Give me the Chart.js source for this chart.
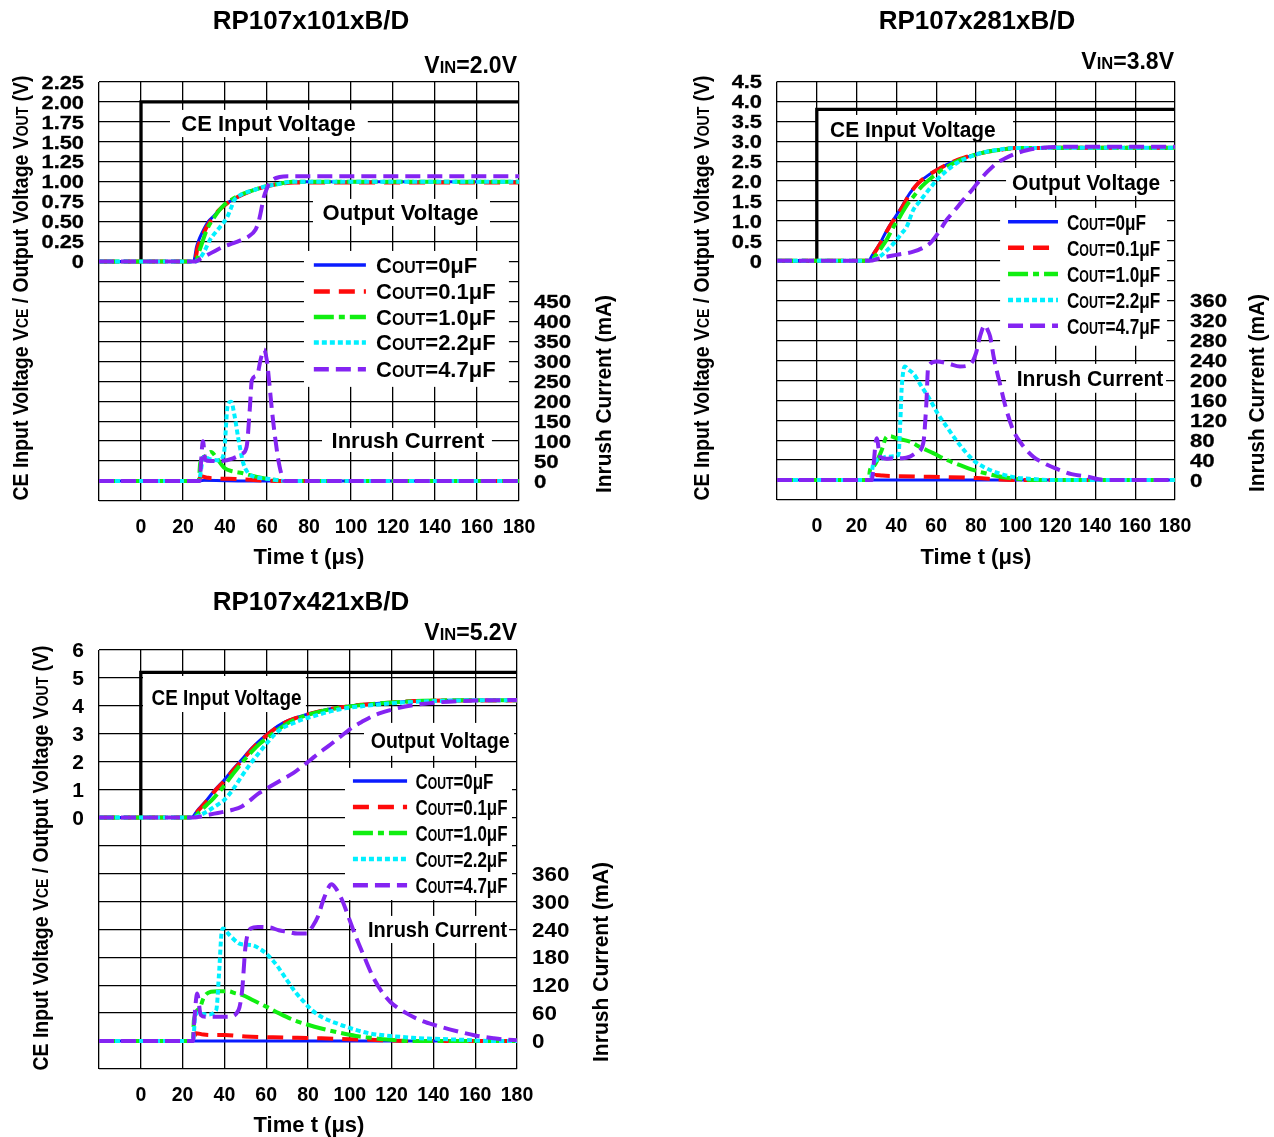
<!DOCTYPE html>
<html>
<head>
<meta charset="utf-8">
<script src="https://cdn.jsdelivr.net/npm/chart.js@4.4.1/dist/chart.umd.min.js"></script>
<style>
  html, body { margin: 0; padding: 0; background: #fff; }
  body { width: 1274px; height: 1137px; position: relative; overflow: hidden; }
  canvas { position: absolute; }
</style>
</head>
<body>
<canvas id="c1" width="640" height="575" style="left:0;top:0"></canvas>
<canvas id="c2" width="634" height="575" style="left:640px;top:0"></canvas>
<canvas id="c3" width="640" height="562" style="left:0;top:575px"></canvas>
<script>
// Capacitor legend entries and line styles
const capLabels = ['0', '0.1', '1.0', '2.2', '4.7'];
const capColors = ['#0a1cff', '#ff0a0a', '#10ee10', '#00f0ff', '#8424f2'];
const capDashes = [[], [16, 9], [20, 5, 6, 5], [5, 3], [15, 7]];
const capWidths = [3, 4, 4, 4, 4];

// ---- RP107x101xB/D, VIN = 2.0V : [time us, value] ----
const p1Out0  = [[-20,0],[25,0],[26.5,0.19],[28,0.3],[29.8,0.40],[32,0.5],[35,0.58],[38,0.67],[42,0.75],[47,0.82],[52,0.88],[58,0.93],[64,0.97],[72,1.0],[180,1.0]];
const p1Out01 = [[-20,0],[25.5,0],[27,0.18],[29,0.3],[31,0.42],[34,0.54],[37,0.64],[41,0.73],[46,0.81],[52,0.88],[58,0.93],[65,0.97],[73,0.99],[180,0.99]];
const p1Out10 = [[-20,0],[26,0],[28,0.15],[31.4,0.40],[35,0.56],[39.6,0.71],[44,0.79],[47.8,0.84],[53,0.89],[59.3,0.94],[65,0.97],[72,1.0],[180,1.0]];
const p1Out22 = [[-20,0],[26,0],[28,0.04],[30,0.12],[32.8,0.27],[35,0.35],[37.8,0.44],[41.1,0.56],[43,0.68],[44.4,0.77],[47.8,0.84],[53,0.89],[59,0.94],[65,0.97],[72,1.0],[180,1.0]];
const p1Out47 = [[-20,0],[26,0],[28,0.03],[31.4,0.08],[35,0.13],[39.6,0.19],[44,0.23],[47.8,0.27],[51,0.31],[54.5,0.40],[56,0.5],[56.9,0.6],[58.5,0.81],[60,0.92],[61,0.98],[63,1.03],[66,1.06],[70,1.07],[180,1.07]];
const p1Inr0  = [[-20,0],[28,0],[30,2],[40,1],[60,0],[180,0]];
const p1Inr01 = [[-20,0],[27.5,0],[28.4,12],[32,8],[38,6],[45,5],[52,3],[60,1],[68,0],[180,0]];
const p1Inr10 = [[-20,0],[27.5,0],[28.2,45],[30.5,62],[33.3,73],[36,58],[39.9,32],[44,24],[48.1,20],[54.7,11],[62.9,3],[70,0],[180,0]];
const p1Inr22 = [[-20,0],[27.5,0],[29.8,61],[33,55],[37.2,52],[39.5,70],[41.3,190],[42.9,199],[44.5,165],[46.2,111],[48.7,45],[51,20],[53.6,11],[60.2,6],[70,0],[180,0]];
const p1Inr47 = [[-20,0],[27.8,0],[29.5,100],[30.6,53],[33,50],[37.2,50],[43.8,57],[48,68],[50.3,86],[51.8,180],[52.8,253],[55.3,266],[57,305],[58.6,330],[60,300],[61.1,245],[62.3,180],[63.6,120],[66,36],[68.5,0],[180,0]];

// ---- RP107x281xB/D, VIN = 3.8V ----
const p2Out0  = [[-20,0],[25.9,0],[28,0.15],[31.8,0.44],[35,0.75],[38.5,1.03],[42,1.3],[46.8,1.70],[51,1.95],[55.2,2.12],[59,2.25],[63.6,2.37],[68,2.48],[73.6,2.58],[79,2.66],[85.4,2.74],[92,2.79],[98.7,2.83],[110,2.84],[180,2.84]];
const p2Out01 = [[-20,0],[26,0],[28,0.13],[32,0.44],[35.5,0.77],[39,1.05],[43,1.35],[47,1.70],[51,1.95],[55.5,2.13],[60,2.27],[64,2.38],[69,2.5],[74,2.59],[80,2.67],[86,2.74],[93,2.79],[100,2.83],[180,2.84]];
const p2Out10 = [[-20,0],[26.5,0],[29,0.1],[32,0.3],[35.1,0.53],[38.5,0.85],[41.8,1.11],[45,1.38],[48.5,1.61],[53,1.88],[58.5,2.12],[64,2.32],[70.2,2.49],[77,2.62],[85,2.73],[93,2.79],[100,2.83],[180,2.84]];
const p2Out22 = [[-20,0],[26.5,0],[29,0.04],[31.8,0.11],[36,0.3],[40.2,0.53],[42.5,0.68],[45.2,0.86],[48.5,1.28],[51,1.45],[53.5,1.61],[57,1.83],[60.3,2.03],[65,2.25],[70.2,2.45],[76,2.59],[82,2.70],[90,2.78],[99,2.83],[180,2.84]];
const p2Out47 = [[-20,0],[26.5,0],[31.8,0.07],[40,0.15],[48.5,0.23],[53,0.32],[56.9,0.44],[61,0.7],[65.3,1.03],[69.5,1.28],[73.6,1.53],[78,1.78],[82,2.03],[86,2.25],[90.4,2.45],[95,2.58],[100.4,2.70],[106,2.78],[112.2,2.83],[125,2.86],[180,2.86]];
const p2Inr0  = [[-20,0],[180,0]];
const p2Inr01 = [[-20,0],[28,0],[29.2,10],[33,9],[40,8],[50,7],[65.3,6],[80.4,4],[92,1],[100,0],[180,0]];
const p2Inr10 = [[-20,0],[26,0],[26.7,20],[29,30],[32.6,60],[35.1,87],[36.7,88],[40,84],[46.8,77],[52,66],[58.5,54],[65,41],[72,30],[78,21],[85.4,13],[92,7],[98.7,3],[110,0],[180,0]];
const p2Inr22 = [[-20,0],[27,0],[28.4,33],[32,42],[35.1,47],[41,50],[42,120],[42.6,181],[44.3,228],[46,222],[48.5,214],[52,192],[56.9,161],[61,132],[65.3,107],[71,75],[78.6,40],[85,24],[92,13],[100,5],[105.4,3],[120,0],[180,0]];
const p2Inr47 = [[-20,0],[27.5,0],[30.1,84],[31.8,47],[35,43],[38.5,44],[43,44],[46.8,47],[50,55],[53.5,74],[55,150],[56,228],[60.3,238],[66,234],[72,228],[77,232],[80,255],[82,288],[84.5,311],[86,300],[87.1,288],[89,245],[92,194],[95,145],[98.7,100],[103,72],[108.8,47],[115,32],[122.2,20],[128,12],[135.6,7],[145,0],[180,0]];

// ---- RP107x421xB/D, VIN = 5.2V ----
const p3Out0  = [[-20,0],[24.2,0],[27,0.25],[31.6,0.63],[35.5,1.0],[39.9,1.35],[44,1.72],[48.1,2.06],[53,2.48],[58,2.84],[63,3.14],[67.9,3.38],[74,3.57],[81.1,3.73],[89,3.87],[97.6,3.97],[105,4.04],[114.1,4.09],[122,4.13],[130.6,4.17],[150,4.2],[180,4.2]];
const p3Out01 = [[-20,0],[24.6,0],[27.5,0.25],[32,0.63],[36,1.0],[40.4,1.35],[44.5,1.72],[48.6,2.06],[53.5,2.48],[58.5,2.84],[63.5,3.14],[68.4,3.38],[74.5,3.57],[81.6,3.73],[89.5,3.87],[98,3.97],[105.5,4.04],[114.5,4.09],[122.5,4.13],[131,4.17],[150,4.19],[180,4.19]];
const p3Out10 = [[-20,0],[25,0],[28,0.2],[31.5,0.45],[34.9,0.7],[40,1.15],[44,1.55],[48.1,1.94],[53,2.35],[57,2.65],[61.3,2.9],[66,3.17],[72,3.45],[80,3.68],[88,3.84],[97.6,3.96],[108,4.05],[120,4.12],[135,4.18],[150,4.2],[180,4.2]];
const p3Out22 = [[-20,0],[25,0],[28,0.08],[31.6,0.21],[35,0.38],[39.9,0.63],[44,1.0],[48.1,1.46],[52,1.88],[56.4,2.30],[60.5,2.68],[64.6,3.02],[68,3.22],[72.9,3.38],[78,3.53],[84.4,3.67],[90,3.79],[97.6,3.91],[105,3.98],[114,4.05],[125,4.12],[140,4.17],[160,4.2],[180,4.2]];
const p3Out47 = [[-20,0],[25,0],[31.6,0.09],[39.9,0.21],[44,0.28],[48.1,0.39],[52,0.6],[56.4,0.87],[60.5,1.05],[64.6,1.23],[68.5,1.4],[72.9,1.59],[77,1.82],[81.1,2.06],[85,2.3],[89.4,2.54],[93.5,2.78],[97.6,3.02],[101.5,3.24],[105.8,3.43],[110,3.6],[114.1,3.73],[122,3.9],[130.6,4.03],[140,4.11],[147.1,4.15],[160,4.19],[180,4.21]];
const p3Inr0  = [[-20,0],[180,0]];
const p3Inr01 = [[-20,0],[25.5,0],[26.2,17],[30,14],[35,13],[40.2,13],[50,10],[63.3,8],[75,7],[86.4,6],[100,4],[110,3],[120,1],[130,0],[180,0]];
const p3Inr10 = [[-20,0],[25,0],[25.4,45],[28,70],[30.3,95],[33.6,106],[37,107],[41.9,107],[45,103],[48.5,99],[54,87],[60,74],[66,60],[73.2,45],[80,35],[86.4,27],[95,18],[102.9,11],[110,7],[116,4],[130,0],[180,0]];
const p3Inr22 = [[-20,0],[25,0],[26.2,60],[29,58],[32,57],[36.1,67],[37.5,150],[38.6,231],[39.4,242],[42,230],[46.8,210],[50,207],[53.4,206],[57,198],[60,188],[65,163],[69.9,131],[74,105],[78.1,84],[82,66],[86.4,52],[95,36],[102.9,24],[110,16],[119.4,11],[130,7],[140,5],[152.4,3],[170,0],[180,0]];
const p3Inr47 = [[-20,0],[25,0],[25.4,31],[27,102],[28.7,56],[31,52],[33.6,52],[41.9,52],[46.8,67],[48.5,110],[50.1,203],[52.6,242],[56,245],[61.7,244],[66,238],[69.9,235],[75,231],[79.8,231],[82,245],[84.7,267],[87.5,305],[90.5,335],[91.3,337],[93,330],[96.3,303],[99.5,265],[102.9,224],[107,180],[111.1,138],[115,108],[119.4,84],[127,60],[135.9,41],[144,30],[152.4,20],[160,12],[168.9,6],[175,3],[180,2]];

const FONT = '"Liberation Sans", Arial, Helvetica, sans-serif';
const SMALL = 0.72;

// text with {SMALL CAPS} runs, e.g. 'V{IN}=2.0V'
function parseRuns(s) {
    return s.split(/(\{[^}]*\})/).filter(Boolean).map(t =>
        t[0] === '{' ? { t: t.slice(1, -1), sm: true } : { t: t, sm: false });
}
function fontStr(size, weight) { return weight + ' ' + size + 'px ' + FONT; }
function runsWidth(ctx, runs, size, weight) {
    let w = 0;
    runs.forEach(r => { ctx.font = fontStr(r.sm ? size * SMALL : size, weight); w += ctx.measureText(r.t).width; });
    return w;
}
// y is the vertical middle of the capitals
function drawText(ctx, s, x, y, o) {
    const size = o.size || 22, weight = o.weight || 'bold', runs = parseRuns(s);
    const nat = runsWidth(ctx, runs, size, weight);
    const sx = o.fit ? o.fit / nat : (o.sx || 1);
    const w = nat * sx;
    const x0 = o.align === 'center' ? -w / 2 : o.align === 'right' ? -w : 0;
    ctx.save();
    ctx.translate(x, y);
    if (o.rot) ctx.rotate(o.rot);
    ctx.translate(x0, 0);
    ctx.scale(sx, 1);
    ctx.fillStyle = '#000';
    ctx.strokeStyle = '#000';
    ctx.lineJoin = 'round';
    ctx.textBaseline = 'alphabetic';
    ctx.textAlign = 'left';
    let cx = 0;
    const base = size * 0.36;
    runs.forEach(r => {
        ctx.font = fontStr(r.sm ? size * SMALL : size, weight);
        ctx.fillText(r.t, cx, base);
        if (o.stroke) { ctx.lineWidth = o.stroke; ctx.strokeText(r.t, cx, base); }
        cx += ctx.measureText(r.t).width;
    });
    ctx.restore();
}

const panels = [
    {
        canvas: 'c1', name: 'RP107x101xB/D', vin: 2.0,
        area: { left: 99, right: 519, top: 82, bottom: 501 },
        yL: { min: -3, max: 2.25, step: 0.25, fmt: v => v === 0 ? '0' : v.toFixed(2), size: 18.5, sx: 1.18, stroke: 0.3 },
        yR: { min: -50, max: 1000, step: 50, top: 450, size: 18.5, sx: 1.2, stroke: 0.3 },
        out: [p1Out0, p1Out01, p1Out10, p1Out22, p1Out47],
        inr: [p1Inr0, p1Inr01, p1Inr10, p1Inr22, p1Inr47],
        boxes: [[13.8, 108, 1.90, 1.56], [81.9, 166.2, 0.785, 0.446], [77.6, 175.2, 0.133, -1.57], [86.2, 167.1, -2.085, -2.386]],
        notes: [{ s: 'CE Input Voltage', t: 60.7, v: 1.737, sx: 1 }, { s: 'Output Voltage', t: 123.6, v: 0.62, sx: 1 }, { s: 'Inrush Current', t: 127.1, v: -2.236, sx: 1 }],
        legend: { rows: [-0.043, -0.375, -0.694, -1.013, -1.348], line: [82.3, 107.1], text: 111.9, sx: 1 },
        titles: { name: [311, 20], vin: [517, 65], left: [20, 288, 425], right: [603, 394, 198], xt: [309, 556] }
    },
    {
        canvas: 'c2', name: 'RP107x281xB/D', vin: 3.8,
        area: { left: 137, right: 535, top: 81.5, bottom: 500 },
        yL: { min: -6, max: 4.5, step: 0.5, fmt: v => v === 0 ? '0' : v.toFixed(1), size: 18.5, sx: 1.18, stroke: 0.3 },
        yR: { min: -40, max: 800, step: 40, top: 360, size: 18.5, sx: 1.2, stroke: 0.3 },
        out: [p2Out0, p2Out01, p2Out10, p2Out22, p2Out47],
        inr: [p2Inr0, p2Inr01, p2Inr10, p2Inr22, p2Inr47],
        boxes: [[0.6, 98.6, 3.66, 3.01], [95.1, 177.5, 2.33, 1.63], [92.1, 176, 1.33, -2.13], [95.1, 175.5, -2.585, -3.31]],
        notes: [{ s: 'CE Input Voltage', t: 48.3, v: 3.31, sx: 0.95 }, { s: 'Output Voltage', t: 135.3, v: 1.98, sx: 0.95 }, { s: 'Inrush Current', t: 137.3, v: -2.95, sx: 0.96 }],
        legend: { rows: [0.98, 0.33, -0.33, -0.98, -1.63], line: [96.1, 121.2], text: 125.7, sx: 0.78 },
        titles: { name: [337, 20], vin: [534, 61], left: [61, 288, 425], right: [616, 393, 198], xt: [336, 556] }
    },
    {
        canvas: 'c3', name: 'RP107x421xB/D', vin: 5.2,
        area: { left: 99, right: 517, top: 75, bottom: 494 },
        yL: { min: -9, max: 6, step: 1, fmt: v => String(v), size: 20, sx: 1.05, stroke: 0 },
        yR: { min: -60, max: 840, step: 60, top: 360, size: 20, sx: 1.12, stroke: 0 },
        out: [p3Out0, p3Out01, p3Out10, p3Out22, p3Out47],
        inr: [p3Inr0, p3Inr01, p3Inr10, p3Inr22, p3Inr47],
        boxes: [[1.05, 79, 5.07, 3.78], [106.8, 178.6, 3.39, 2.21], [97.7, 177.6, 1.78, -2.95], [103, 176.2, -3.52, -4.49]],
        notes: [{ s: 'CE Input Voltage', t: 41, v: 4.30, sx: 0.86 }, { s: 'Output Voltage', t: 143.2, v: 2.78, sx: 0.89 }, { s: 'Inrush Current', t: 142, v: -3.99, sx: 0.91 }],
        legend: { rows: [1.31, 0.38, -0.55, -1.48, -2.42], line: [101.5, 127.4], text: 131.4, sx: 0.77 },
        titles: { name: [311, 26], vin: [517, 57], left: [40, 283, 425], right: [600, 387, 200], xt: [309, 549] }
    }
];

function lineDs(points, k, axis) {
    return {
        data: points.map(p => ({ x: p[0], y: p[1] })),
        yAxisID: axis,
        borderColor: capColors[k],
        borderWidth: capWidths[k],
        borderDash: capDashes[k],
        pointRadius: 0,
        fill: false,
        cubicInterpolationMode: 'monotone',
        order: 5 - k
    };
}

function panelPlugin(p) {
    return {
        id: 'deco',
        // white boxes behind labels and legend, over the grid
        beforeDatasetsDraw(chart) {
            const ctx = chart.ctx, x = chart.scales.x, y = chart.scales.y;
            ctx.save();
            ctx.fillStyle = '#fff';
            p.boxes.forEach(b => {
                const x0 = x.getPixelForValue(b[0]), x1 = x.getPixelForValue(b[1]);
                const y0 = y.getPixelForValue(b[2]), y1 = y.getPixelForValue(b[3]);
                ctx.fillRect(x0, y0, x1 - x0, y1 - y0);
            });
            ctx.restore();
        },
        afterDraw(chart) {
            const ctx = chart.ctx, x = chart.scales.x, y = chart.scales.y, y2 = chart.scales.y2;
            const A = chart.chartArea;
            // y tick labels (wide lettering, as in the datasheet)
            y.ticks.forEach(tk => {
                if (tk.value < 0) return;
                drawText(ctx, p.yL.fmt(tk.value), A.left - 15, y.getPixelForValue(tk.value), { align: 'right', size: p.yL.size, sx: p.yL.sx, stroke: p.yL.stroke });
            });
            y2.ticks.forEach(tk => {
                if (tk.value < 0 || tk.value > p.yR.top) return;
                drawText(ctx, String(tk.value), A.right + 15, y2.getPixelForValue(tk.value), { align: 'left', size: p.yR.size, sx: p.yR.sx, stroke: p.yR.stroke });
            });
            p.notes.forEach(n => drawText(ctx, n.s, x.getPixelForValue(n.t), y.getPixelForValue(n.v), { align: 'center', sx: n.sx, size: 22 }));
            const lg = p.legend;
            capLabels.forEach((c, k) => {
                const yy = y.getPixelForValue(lg.rows[k]);
                ctx.save();
                ctx.strokeStyle = capColors[k];
                ctx.lineWidth = capWidths[k] + 0.5;
                ctx.setLineDash(capDashes[k]);
                ctx.beginPath();
                ctx.moveTo(x.getPixelForValue(lg.line[0]), yy);
                ctx.lineTo(x.getPixelForValue(lg.line[1]), yy);
                ctx.stroke();
                ctx.restore();
                drawText(ctx, 'C{OUT}=' + c + 'μF', x.getPixelForValue(lg.text), yy, { sx: lg.sx, size: 22 });
            });
            const t = p.titles;
            drawText(ctx, p.name, t.name[0], t.name[1], { align: 'center', size: 26 });
            drawText(ctx, 'V{IN}=' + p.vin.toFixed(1) + 'V', t.vin[0], t.vin[1], { align: 'right', size: 23 });
            drawText(ctx, 'CE Input Voltage V{CE} / Output Voltage V{OUT} (V)', t.left[0], t.left[1], { align: 'center', size: 22, rot: -Math.PI / 2, fit: t.left[2] });
            drawText(ctx, 'Inrush Current (mA)', t.right[0], t.right[1], { align: 'center', size: 22, rot: -Math.PI / 2, fit: t.right[2] });
            drawText(ctx, 'Time t (μs)', t.xt[0], t.xt[1], { align: 'center', size: 22 });
        }
    };
}

function buildPanel(p) {
    const canvas = document.getElementById(p.canvas);
    const W = canvas.width, H = canvas.height, A = p.area;
    const datasets = [{
        data: [{ x: -20, y: 0 }, { x: 0, y: 0 }, { x: 0, y: p.vin }, { x: 180, y: p.vin }],
        yAxisID: 'y', borderColor: '#000', borderWidth: 3.3, pointRadius: 0, tension: 0,
        borderJoinStyle: 'miter', order: 10
    }];
    p.out.forEach((s, k) => datasets.push(lineDs(s, k, 'y')));
    p.inr.forEach((s, k) => datasets.push(lineDs(s, k, 'y2')));

    const tickFont = { family: FONT, size: 19.5, weight: 'bold' };
    new Chart(canvas, {
        type: 'line',
        data: { datasets: datasets },
        options: {
            responsive: false,
            animation: false,
            events: [],
            layout: { padding: { top: A.top, left: 0, right: 0, bottom: 0 } },
            plugins: { legend: { display: false }, tooltip: { enabled: false } },
            scales: {
                x: {
                    type: 'linear', position: 'bottom', min: -20, max: 180,
                    ticks: { stepSize: 20, autoSkip: false, maxRotation: 0, padding: 15, color: '#000', font: tickFont,
                             callback: v => v < 0 ? '' : String(v) },
                    grid: { color: '#000', lineWidth: 1.3, drawTicks: false },
                    border: { display: false },
                    afterFit: s => { s.height = H - A.bottom; }
                },
                y: {
                    type: 'linear', position: 'left', min: p.yL.min, max: p.yL.max,
                    ticks: { stepSize: p.yL.step, autoSkip: false, display: false },
                    grid: { color: '#000', lineWidth: 1.3, drawTicks: false },
                    border: { display: false },
                    afterFit: s => { s.width = A.left; }
                },
                y2: {
                    type: 'linear', position: 'right', min: p.yR.min, max: p.yR.max,
                    ticks: { stepSize: p.yR.step, autoSkip: false, display: false },
                    grid: { display: false, drawTicks: false },
                    border: { display: false },
                    afterFit: s => { s.width = W - A.right; }
                }
            }
        },
        plugins: [panelPlugin(p)]
    });
}

panels.forEach(buildPanel);
</script>
</body>
</html>
